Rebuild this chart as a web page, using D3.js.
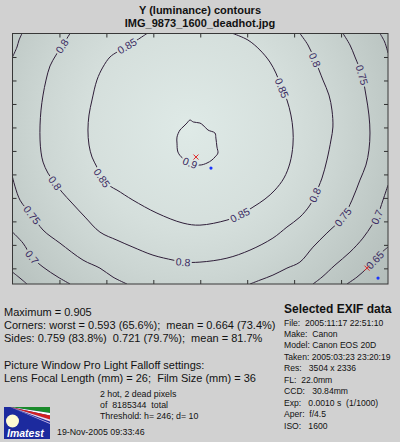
<!DOCTYPE html>
<html>
<head>
<meta charset="utf-8">
<script src="https://cdn.jsdelivr.net/npm/d3@7"></script>
<style>
  body { margin: 0; background: #d1d1d1; }
  svg { display: block; font-family: Arial, "Liberation Sans", sans-serif; }
</style>
</head>
<body>
<div id="chart"></div>
<script>
// image is 3504 x 2336 pixels; contour points are image pixel coords
const imgSize = [3504, 2336];
const xTicks = [438, 876, 1314, 1752, 2190, 2628, 3066];
const yTicks = [219, 438, 657, 876, 1095, 1314, 1533, 1752, 1971, 2190];

const c090 = [[1656,807],[1687,825],[1749,835],[1777,854],[1824,900],[1889,928],[1898,975],[1908,1059],
  [1917,1115],[1889,1152],[1861,1180],[1815,1208],[1749,1227],[1656,1208],[1586,1162],[1544,1106],
  [1535,1022],[1535,966],[1563,900],[1591,872],[1628,835]];
const c085 = [[1255,0],[1162,61],[1068,117],[975,173],[910,219],[844,313],[788,434],[742,620],[714,760],
  [704,900],[714,1040],[742,1152],[788,1246],[835,1348],[910,1423],[975,1460],[1124,1554],[1348,1675],
  [1591,1768],[1749,1787],[2001,1740],[2122,1693],[2244,1619],[2356,1544],[2449,1460],[2533,1348],
  [2589,1208],[2617,1040],[2617,900],[2598,760],[2561,620],[2514,509],[2458,369],[2402,266],[2309,154],
  [2197,61],[2057,0]];
const c080 = [[537,0],[462,117],[406,201],[350,303],[313,434],[285,574],[266,714],[257,854],[257,993],
  [266,1106],[285,1199],[331,1302],[397,1395],[462,1479],[555,1581],[677,1712],[816,1852],[975,1927],
  [1124,1992],[1311,2067],[1498,2113],[1591,2132],[1749,2132],[2001,2095],[2216,2020],[2430,1908],
  [2561,1805],[2682,1712],[2776,1600],[2822,1507],[2888,1348],[2934,1180],[2972,993],[2990,872],
  [2981,714],[2953,574],[2897,434],[2822,247],[2757,107],[2682,0]];
const c075TopLeft = [[89,0],[61,61],[42,126],[0,219]];
const c075Left = [[0,1339],[70,1554],[182,1693],[285,1833],[443,1955],[658,2113],[816,2188],[938,2272],[1068,2336]];
const c075Right = [[3084,0],[3149,107],[3196,219],[3261,387],[3298,574],[3326,760],[3336,928],[3326,1087],
  [3298,1227],[3242,1367],[3168,1554],[3084,1712],[2934,1861],[2804,1992],[2682,2132],[2561,2188],
  [2430,2253],[2309,2300],[2216,2336]];
const c070Left = [[0,1852],[98,1955],[182,2085],[285,2178],[425,2272],[537,2336]];
const c070TopRight = [[3429,0],[3473,79],[3504,182]];
const c070Right = [[3504,1414],[3457,1554],[3401,1712],[3354,1787],[3270,1908],[3149,2039],[3009,2160],
  [2888,2272],[2804,2336]];
const c065Right = [[3504,1992],[3448,2039],[3382,2113],[3308,2188],[3214,2272],[3121,2336]];
const c065Left = [[0,2225],[70,2281],[135,2336]];

const redMarks = [[1712,1152],[3308,2188]];
const blueMarks = [[1852,1255],[3411,2281]];

const titleLines = ["Y (luminance) contours", "IMG_9873_1600_deadhot.jpg"];
const statLines = [
  "Maximum = 0.905",
  "Corners: worst = 0.593 (65.6%);  mean = 0.664 (73.4%)",
  "Sides: 0.759 (83.8%)  0.721 (79.7%);  mean = 81.7%"
];
const pwLines = [
  "Picture Window Pro Light Falloff settings:",
  "Lens Focal Length (mm) = 26;  Film Size (mm) = 36"
];
const pixelLines = ["2 hot, 2 dead pixels", "of  8185344  total", "Threshold: h= 246; d= 10"];
const dateText = "19-Nov-2005 09:33:46";
const exifTitle = "Selected EXIF data";
const exifLines = [
  "File:  2005:11:17 22:51:10",
  "Make:  Canon",
  "Model: Canon EOS 20D",
  "Taken: 2005:03:23 23:20:19",
  "Res:   3504 x 2336",
  "FL:  22.0mm",
  "CCD:   30.84mm",
  "Exp:   0.0010 s  (1/1000)",
  "Aper:  f/4.5",
  "ISO:   1600"
];

// level, points, closed?, indices where the level label sits
const contours = [
  { level: "0.9", pts: c090, closed: true, labels: [13] },
  { level: "0.85", pts: c085, closed: false, labels: [2, 13, 21, 31] },
  { level: "0.8", pts: c080, closed: false, labels: [1, 12, 21, 29, 37] },
  { level: "0.75", pts: c075TopLeft, closed: false, labels: [] },
  { level: "0.75", pts: c075Left, closed: false, labels: [2] },
  { level: "0.75", pts: c075Right, closed: false, labels: [3, 11] },
  { level: "0.7", pts: c070Left, closed: false, labels: [2] },
  { level: "0.7", pts: c070TopRight, closed: false, labels: [] },
  { level: "0.7", pts: c070Right, closed: false, labels: [2] },
  { level: "0.65", pts: c065Right, closed: false, labels: [2] },
  { level: "0.65", pts: c065Left, closed: false, labels: [] }
];

const width = 400, height = 442;
const frame = { left: 12.5, top: 33.5, right: 388, bottom: 284 };

const x = d3.scaleLinear().domain([0, imgSize[0]]).range([frame.left, frame.right]);
const y = d3.scaleLinear().domain([0, imgSize[1]]).range([frame.top, frame.bottom]);

const svg = d3.select("#chart").append("svg").attr("width", width).attr("height", height);
svg.append("rect").attr("width", width).attr("height", height).attr("fill", "#d1d1d1");

const defs = svg.append("defs");
const grad = defs.append("radialGradient").attr("id", "lum")
  .attr("gradientUnits", "userSpaceOnUse")
  .attr("cx", x(1640)).attr("cy", y(880)).attr("r", 262);
[[0, "#dfeae7"], [0.06, "#dde8e5"], [0.39, "#d5dfdc"], [0.57, "#ccd6d3"],
 [0.71, "#c3cdca"], [0.83, "#bbc5c2"], [1, "#b1bbb8"]].forEach(s => {
  grad.append("stop").attr("offset", s[0]).attr("stop-color", s[1]);
});
defs.append("clipPath").attr("id", "plotclip").append("rect")
  .attr("x", frame.left).attr("y", frame.top)
  .attr("width", frame.right - frame.left).attr("height", frame.bottom - frame.top);
const mask = defs.append("mask").attr("id", "gaps").attr("maskUnits", "userSpaceOnUse")
  .attr("x", 0).attr("y", 0).attr("width", width).attr("height", height);
mask.append("rect").attr("width", width).attr("height", height).attr("fill", "white");

// luminance image
svg.append("rect")
  .attr("x", frame.left).attr("y", frame.top)
  .attr("width", frame.right - frame.left).attr("height", frame.bottom - frame.top)
  .attr("fill", "url(#lum)");

const plot = svg.append("g").attr("clip-path", "url(#plotclip)");
const lineG = plot.append("g").attr("mask", "url(#gaps)");
const labelG = plot.append("g");

const line = d3.line().x(d => x(d[0])).y(d => y(d[1])).curve(d3.curveCatmullRom.alpha(0.5));
const loop = d3.line().x(d => x(d[0])).y(d => y(d[1])).curve(d3.curveCatmullRomClosed.alpha(0.5));

contours.forEach(c => {
  lineG.append("path")
    .attr("d", c.closed ? loop(c.pts) : line(c.pts))
    .attr("fill", "none")
    .attr("stroke", "#2e1d38")
    .attr("stroke-width", 1);

  c.labels.forEach(i => {
    const n = c.pts.length;
    const a = c.pts[c.closed ? (i - 1 + n) % n : Math.max(i - 1, 0)];
    const b = c.pts[c.closed ? (i + 1) % n : Math.min(i + 1, n - 1)];
    let ang = Math.atan2(y(b[1]) - y(a[1]), x(b[0]) - x(a[0])) * 180 / Math.PI;
    if (ang > 90) ang -= 180;
    if (ang < -90) ang += 180;
    const px = x(c.pts[i][0]), py = y(c.pts[i][1]);
    const t = labelG.append("text")
      .attr("transform", `translate(${px},${py}) rotate(${ang})`)
      .attr("text-anchor", "middle")
      .attr("dy", "0.36em")
      .attr("font-size", 10.5)
      .attr("fill", "#3a2a62")
      .text(c.level);
    const w = t.node().getComputedTextLength() + 3;
    mask.append("rect")
      .attr("x", -w / 2).attr("y", -5).attr("width", w).attr("height", 10)
      .attr("transform", `translate(${px},${py}) rotate(${ang})`)
      .attr("fill", "black");
  });
});

// max / min markers
plot.selectAll("path.xmark").data(redMarks).join("path")
  .attr("class", "xmark")
  .attr("d", d => `M${x(d[0]) - 2.5},${y(d[1]) - 2.5}L${x(d[0]) + 2.5},${y(d[1]) + 2.5}M${x(d[0]) - 2.5},${y(d[1]) + 2.5}L${x(d[0]) + 2.5},${y(d[1]) - 2.5}`)
  .attr("stroke", "#e02828").attr("stroke-width", 1);
plot.selectAll("circle.dot").data(blueMarks).join("circle")
  .attr("class", "dot")
  .attr("cx", d => x(d[0])).attr("cy", d => y(d[1])).attr("r", 1.6)
  .attr("fill", "#1a34ff");

// inward ticks on all four sides
const tick = 4;
const axes = [
  svg.append("g").attr("transform", `translate(0,${frame.bottom})`)
    .call(d3.axisTop(x).tickValues(xTicks).tickSize(tick).tickSizeOuter(0).tickFormat("")),
  svg.append("g").attr("transform", `translate(0,${frame.top})`)
    .call(d3.axisBottom(x).tickValues(xTicks).tickSize(tick).tickSizeOuter(0).tickFormat("")),
  svg.append("g").attr("transform", `translate(${frame.left},0)`)
    .call(d3.axisRight(y).tickValues(yTicks).tickSize(tick).tickSizeOuter(0).tickFormat("")),
  svg.append("g").attr("transform", `translate(${frame.right},0)`)
    .call(d3.axisLeft(y).tickValues(yTicks).tickSize(tick).tickSizeOuter(0).tickFormat(""))
];
axes.forEach(g => {
  g.select(".domain").remove();
  g.selectAll("line").attr("stroke", "#303030");
});
svg.append("rect")
  .attr("x", frame.left).attr("y", frame.top)
  .attr("width", frame.right - frame.left).attr("height", frame.bottom - frame.top)
  .attr("fill", "none").attr("stroke", "#383838").attr("stroke-width", 1);

// title
svg.selectAll("text.title").data(titleLines).join("text")
  .attr("class", "title")
  .attr("x", 200).attr("y", (d, i) => 14 + i * 13)
  .attr("text-anchor", "middle")
  .attr("font-size", 11).attr("font-weight", "bold").attr("fill", "#111")
  .text(d => d);

// stats text
function textBlock(lines, x0, y0, step, size, cls) {
  svg.selectAll("text." + cls).data(lines).join("text")
    .attr("class", cls)
    .attr("x", x0).attr("y", (d, i) => y0 + i * step)
    .attr("font-size", size).attr("fill", "#111")
    .style("white-space", "pre")
    .text(d => d);
}
textBlock(statLines, 4, 316, 13, 11, "stat");
textBlock(pwLines, 4, 368.5, 13, 11, "pw");
textBlock(pixelLines, 100, 397, 11, 8.8, "pix");
textBlock([dateText], 57, 434.5, 11, 8.8, "date");
textBlock(exifLines, 284, 325.5, 11.45, 8.6, "exif");

svg.append("text")
  .attr("x", 284).attr("y", 313)
  .attr("font-size", 12).attr("font-weight", "bold").attr("fill", "#111")
  .text(exifTitle);

// Imatest logo
const logo = svg.append("g").attr("transform", "translate(4,407)");
logo.append("rect").attr("width", 46).attr("height", 32).attr("fill", "#1c2a9e");
logo.append("path").attr("d", "M6,0L46,0L46,6Z").attr("fill", "#1a8a2a");
logo.append("path").attr("d", "M6,0L46,6L46,8.5Z").attr("fill", "#ffffff");
logo.append("path").attr("d", "M6,0L46,8.5L46,12.5Z").attr("fill", "#d42020");
logo.append("path").attr("d", "M6,0L46,12.5L46,14.5Z").attr("fill", "#f4d8e8");
logo.append("path").attr("d", "M6,0L46,16L46,17Z").attr("fill", "#c8b8e8");
logo.append("circle").attr("cx", 8.5).attr("cy", 14).attr("r", 6.5).attr("fill", "#fffbd2");
logo.append("text").attr("x", 3).attr("y", 29.5)
  .attr("font-size", 10.5).attr("font-weight", "bold").attr("font-style", "italic")
  .attr("fill", "#ffffff").text("Imatest");
</script>
</body>
</html>
